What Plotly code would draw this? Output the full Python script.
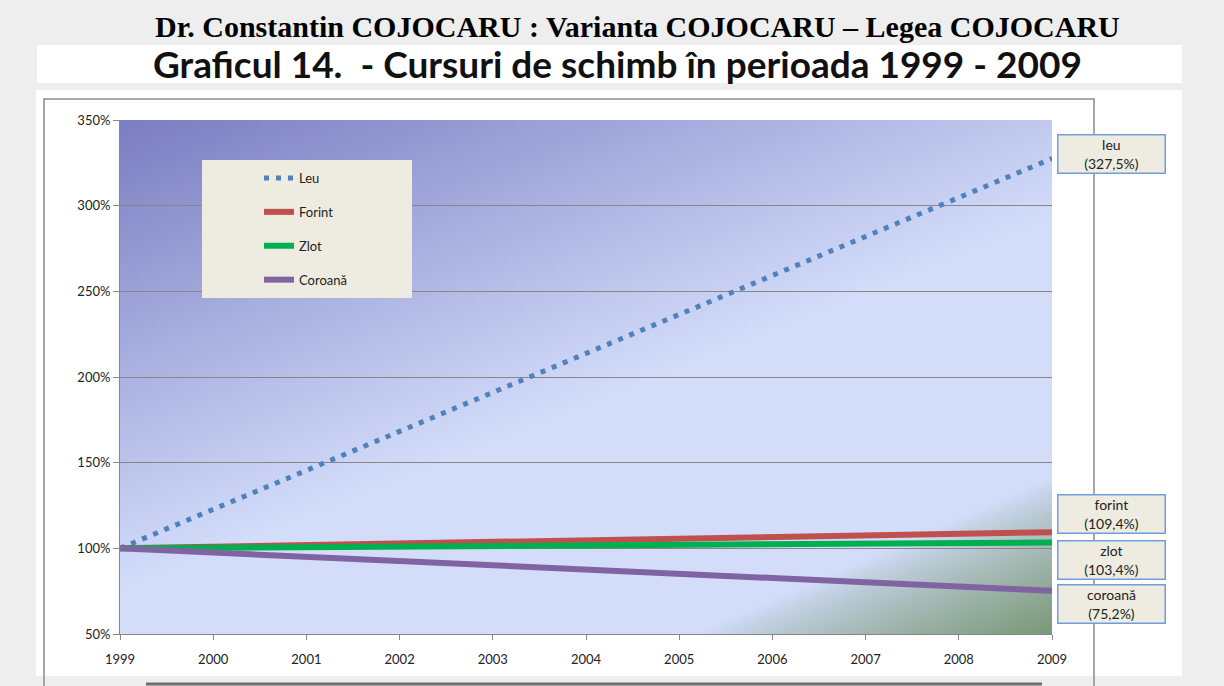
import base64
import struct
import zlib
import numpy as np
import plotly.graph_objects as go

# data
years = [1999, 2000, 2001, 2002, 2003, 2004, 2005, 2006, 2007, 2008, 2009]
leu = [100, 122.8, 145.5, 168.3, 191.0, 213.8, 236.5, 259.3, 282.0, 304.8, 327.5]
forint = [100, 100.9, 101.9, 102.8, 103.8, 104.7, 105.6, 106.6, 107.5, 108.5, 109.4]
zlot = [100, 100.3, 100.7, 101.0, 101.4, 101.7, 102.0, 102.4, 102.7, 103.1, 103.4]
coroana = [100, 97.5, 95.0, 92.6, 90.1, 87.6, 85.1, 82.6, 80.2, 77.7, 75.2]
y_ticks = [50, 100, 150, 200, 250, 300, 350]

series = [
    ("Leu", "leu", leu, "#4f81bd"),
    ("Forint", "forint", forint, "#c0504d"),
    ("Zlot", "zlot", zlot, "#00b050"),
    ("Coroană", "coroană", coroana, "#8064a2"),
]

W, H = 1224, 686
L, R, T, B = 120, 1052, 120, 634


def px(x):
    return (x - L) / (R - L)


def py(y):
    return (B - y) / (B - T)


def png_uri(rgb):
    h, w, _ = rgb.shape
    raw = b''.join(b'\x00' + rgb[i].tobytes() for i in range(h))

    def chunk(tag, data):
        c = struct.pack('>I', len(data)) + tag + data
        return c + struct.pack('>I', zlib.crc32(tag + data) & 0xffffffff)

    png = (b'\x89PNG\r\n\x1a\n'
           + chunk(b'IHDR', struct.pack('>IIBBBBB', w, h, 8, 2, 0, 0, 0))
           + chunk(b'IDAT', zlib.compress(raw))
           + chunk(b'IEND', b''))
    return 'data:image/png;base64,' + base64.b64encode(png).decode()


# background gradient of the plot area
gw, gh = 240, 130
u = np.linspace(0, 1, gw)[None, :]
v = np.linspace(0, 1, gh)[:, None]
purple = np.array([0x7c, 0x7e, 0xc2], float)
light = np.array([0xd3, 0xdd, 0xfa], float)
green = np.array([0x7c, 0x9a, 0x78], float)
s = np.clip(0.8 * u + 1.1 * v, 0, 1)[..., None]
g = np.clip((0.8 * u + v - 1.5) / 0.3, 0, 1)[..., None] ** 0.8
rgb = purple + (light - purple) * s
rgb = rgb + (green - rgb) * g
bg_uri = png_uri(np.clip(rgb, 0, 255).astype(np.uint8))

fig = go.Figure()

for i, (name, label, vals, color) in enumerate(series):
    fig.add_trace(go.Scatter(
        x=years, y=vals, name=name, mode="lines",
        legendgroup=str(i),
        line=dict(color=color, width=6 if i else 5,
                  dash="5px,7px" if i == 0 else "solid"),
        hoverinfo="skip",
    ))

# text boxes at the right of the plot
box_y = [154, 514, 560, 604]
for (name, label, vals, color), yy in zip(series, box_y):
    txt = f"{label}<br>({vals[-1]:.1f}%)".replace(".", ",")
    fig.add_annotation(
        xref="paper", yref="paper", x=px(1111), y=py(yy),
        xanchor="center", yanchor="middle",
        text=txt, showarrow=False, align="center",
        width=104, height=35,
        bgcolor="#eeece1", bordercolor="#6f9edb", borderwidth=1.5,
        borderpad=1, font=dict(family="Lato", size=14, color="#222222"),
    )

shapes = [
    # white panels
    dict(type="rect", xref="paper", yref="paper", x0=px(37), x1=px(1182),
         y0=py(83), y1=py(45), fillcolor="white", line_width=0, layer="below"),
    dict(type="rect", xref="paper", yref="paper", x0=px(36), x1=px(1182),
         y0=py(676), y1=py(90), fillcolor="white", line_width=0, layer="below"),
    dict(type="rect", xref="paper", yref="paper", x0=px(44), x1=px(1094),
         y0=py(690), y1=py(99), fillcolor="rgba(0,0,0,0)",
         line=dict(color="#8c8c8c", width=1.5), layer="below"),
    # legend box
    dict(type="rect", xref="paper", yref="paper", x0=px(202), x1=px(412),
         y0=py(298), y1=py(160), fillcolor="#eeece1", line_width=0),
    # bottom page bar
    dict(type="line", xref="paper", yref="paper", x0=px(146), x1=px(1042),
         y0=py(684), y1=py(684), line=dict(color="#6e6e6e", width=3)),
]

fig.add_annotation(
    xref="paper", yref="paper", x=px(637), y=py(27),
    xanchor="center", yanchor="middle",
    text="<b>Dr. Constantin COJOCARU : Varianta COJOCARU – Legea COJOCARU</b>",
    showarrow=False, font=dict(family="Liberation Serif", size=30, color="#000000"),
)
fig.add_annotation(
    xref="paper", yref="paper", x=px(617), y=py(64),
    xanchor="center", yanchor="middle",
    text="<b>Graficul 14.  - Cursuri de schimb în perioada 1999 - 2009</b>",
    showarrow=False, font=dict(family="Lato", size=37, color="#111111"),
)

fig.update_layout(
    width=W, height=H,
    margin=dict(l=L, r=W - R, t=T, b=H - B),
    paper_bgcolor="#eeeeee",
    plot_bgcolor="rgba(0,0,0,0)",
    shapes=shapes,
    images=[dict(source=bg_uri, xref="x", yref="y", x=1999, y=350,
                 sizex=10, sizey=300, sizing="stretch", layer="below",
                 xanchor="left", yanchor="top")],
    showlegend=True,
    legend=dict(x=px(259), y=py(163), xanchor="left", yanchor="top",
                bgcolor="rgba(0,0,0,0)", tracegroupgap=14,
                font=dict(family="Lato", size=13, color="#222222")),
    font=dict(family="Lato"),
)

fig.update_xaxes(
    range=[1999, 2009], tickvals=years, showgrid=False,
    showline=True, linecolor="#868686", linewidth=1,
    ticks="outside", ticklen=5, tickcolor="#868686",
    ticklabelstandoff=8,
    tickfont=dict(size=13, color="#222222"),
)
fig.update_yaxes(
    range=[50, 350], tickvals=y_ticks, ticktext=[f"{t}%" for t in y_ticks],
    showgrid=True, gridcolor="#878787", gridwidth=1,
    showline=True, linecolor="#868686", linewidth=1,
    ticks="outside", ticklen=6, tickcolor="#868686",
    tickfont=dict(size=13, color="#222222"), zeroline=False,
)

fig.write_html("out.html", config={"displayModeBar": False},
               post_script="document.body.style.margin='0';")
